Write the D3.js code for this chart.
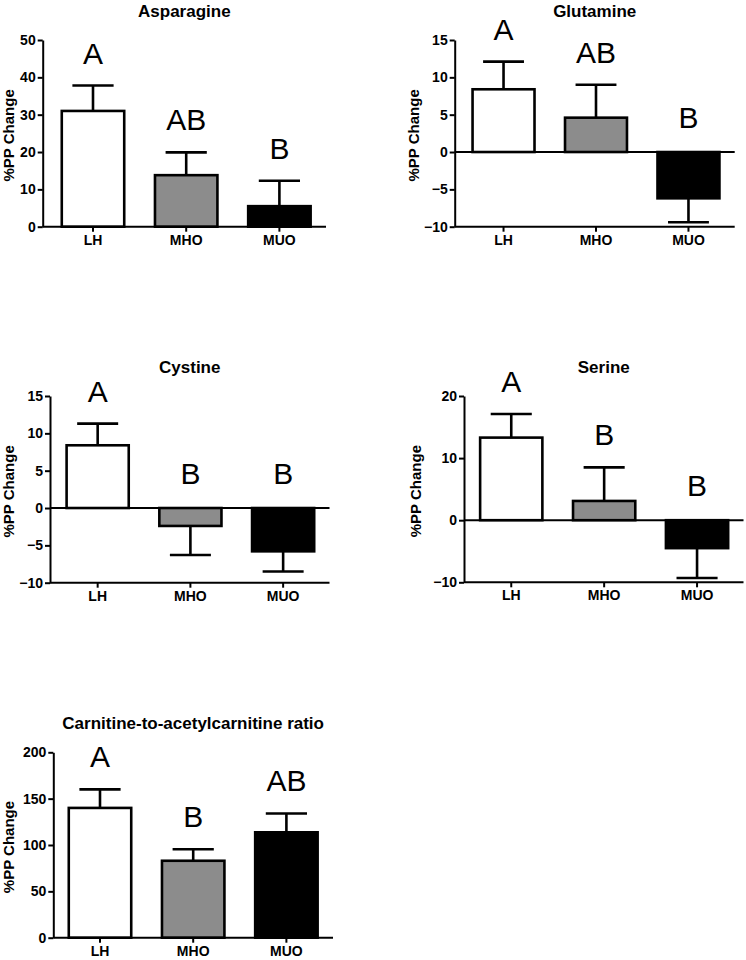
<!DOCTYPE html>
<html>
<head>
<meta charset="utf-8">
<script src="https://cdn.jsdelivr.net/npm/d3@7"></script>
<style>
  html, body { margin: 0; padding: 0; background: #fff; }
  svg { display: block; font-family: Arial, "Liberation Sans", Helvetica, sans-serif; }
</style>
</head>
<body>
<svg id="chart" width="746" height="960"></svg>
<script>
// ---------------- data ----------------
const groups = ["LH", "MHO", "MUO"];
const barColors = ["#ffffff", "#8c8c8c", "#000000"];
const yLabel = "%PP Change";

const titles = ["Asparagine", "Glutamine", "Cystine", "Serine", "Carnitine-to-acetylcarnitine ratio"];

const asparagineMean = [31.0, 13.8, 5.5];
const asparagineErr  = [6.8, 6.1, 6.8];
const glutamineMean  = [8.4, 4.6, -6.2];
const glutamineErr   = [3.7, 4.4, 3.2];
const cystineMean    = [8.4, -2.4, -5.8];
const cystineErr     = [2.9, 3.9, 2.7];
const serineMean     = [13.3, 3.1, -4.5];
const serineErr      = [3.8, 5.4, 4.8];
const carnitineMean  = [140.0, 83.0, 113.7];
const carnitineErr   = [20.0, 12.4, 20.3];

const asparagineLetters = ["A", "AB", "B"];
const glutamineLetters  = ["A", "AB", "B"];
const cystineLetters    = ["A", "B", "B"];
const serineLetters     = ["A", "B", "B"];
const carnitineLetters  = ["A", "B", "AB"];

const asparagineTicks = [0, 10, 20, 30, 40, 50];
const glutamineTicks  = [-10, -5, 0, 5, 10, 15];
const cystineTicks    = [-10, -5, 0, 5, 10, 15];
const serineTicks     = [-10, 0, 10, 20];
const carnitineTicks  = [0, 50, 100, 150, 200];

const panelsData = [
  { mean: asparagineMean, err: asparagineErr, letters: asparagineLetters, ticks: asparagineTicks },
  { mean: glutamineMean,  err: glutamineErr,  letters: glutamineLetters,  ticks: glutamineTicks },
  { mean: cystineMean,    err: cystineErr,    letters: cystineLetters,    ticks: cystineTicks },
  { mean: serineMean,     err: serineErr,     letters: serineLetters,     ticks: serineTicks },
  { mean: carnitineMean,  err: carnitineErr,  letters: carnitineLetters,  ticks: carnitineTicks }
];

// ---------------- layout ----------------
const layout = [
  { axisX: 42.7,  bandStart: 46.4,  bandEnd: 326.0, top: 40,    bottom: 226.7, labelX: 9 },
  { axisX: 454.7, bandStart: 457.3, bandEnd: 734.7, top: 40,    bottom: 226.7, labelX: 414 },
  { axisX: 50,    bandStart: 51.3,  bandEnd: 329.5, top: 396,   bottom: 582.7, labelX: 9 },
  { axisX: 464,   bandStart: 464.8, bandEnd: 743.5, top: 396,   bottom: 582.3, labelX: 415.5 },
  { axisX: 53.3,  bandStart: 53.4,  bandEnd: 333,   top: 752.3, bottom: 937.7, labelX: 9 }
];

const svg = d3.select("#chart");

panelsData.forEach((pd, i) => {
  const L = layout[i];
  const g = svg.append("g");
  const ticks = pd.ticks;
  const y = d3.scaleLinear()
    .domain([d3.min(ticks), d3.max(ticks)])
    .range([L.bottom, L.top]);
  const x = d3.scaleBand()
    .domain(groups)
    .range([L.bandStart, L.bandEnd])
    .paddingInner(0.33)
    .paddingOuter(0.165);

  const rows = groups.map((k, j) => ({ k, v: pd.mean[j], e: pd.err[j], c: barColors[j], l: pd.letters[j] }));

  // bars
  g.selectAll("rect.bar").data(rows).enter().append("rect")
    .attr("class", "bar")
    .attr("x", d => x(d.k))
    .attr("width", x.bandwidth())
    .attr("y", d => y(Math.max(0, d.v)))
    .attr("height", d => Math.abs(y(d.v) - y(0)))
    .attr("fill", d => d.c)
    .attr("stroke", "#000")
    .attr("stroke-width", 2.6);

  // error bars (one-sided, away from zero)
  const capW = x.bandwidth() * 0.66;
  rows.forEach(d => {
    const cx = x(d.k) + x.bandwidth() / 2;
    const tip = d.v >= 0 ? d.v + d.e : d.v - d.e;
    g.append("line")
      .attr("x1", cx).attr("x2", cx)
      .attr("y1", y(d.v)).attr("y2", y(tip))
      .attr("stroke", "#000").attr("stroke-width", 2.6);
    g.append("line")
      .attr("x1", cx - capW / 2).attr("x2", cx + capW / 2)
      .attr("y1", y(tip)).attr("y2", y(tip))
      .attr("stroke", "#000").attr("stroke-width", 2.6);
    // significance letters
    const base = d.v >= 0 ? y(d.v + d.e) - 22 : y(0) - 24;
    g.append("text")
      .attr("x", cx).attr("y", base)
      .attr("text-anchor", "middle")
      .attr("font-size", 30)
      .attr("fill", "#000")
      .text(d.l);
  });

  // y axis
  const yAxis = d3.axisLeft(y).tickValues(ticks).tickSize(5).tickSizeOuter(0).tickPadding(2);
  const ya = g.append("g").attr("transform", `translate(${L.axisX},0)`).call(yAxis);
  ya.selectAll("text").attr("font-size", 14).attr("font-weight", "bold").attr("fill", "#000")
    .attr("font-family", "Arial, 'Liberation Sans', sans-serif");
  ya.selectAll("line").attr("stroke", "#000").attr("stroke-width", 2);
  ya.select(".domain").attr("stroke", "#000").attr("stroke-width", 2);

  // x axis (ticks + labels)
  const xAxis = d3.axisBottom(x).tickSize(5).tickSizeOuter(0).tickPadding(3);
  const xa = g.append("g").attr("transform", `translate(0,${L.bottom})`).call(xAxis);
  xa.select(".domain").remove();
  xa.selectAll("text").attr("font-size", 14).attr("font-weight", "bold").attr("fill", "#000")
    .attr("font-family", "Arial, 'Liberation Sans', sans-serif");
  xa.selectAll("line").attr("stroke", "#000").attr("stroke-width", 2);
  g.append("line")
    .attr("x1", L.axisX).attr("x2", L.bandEnd)
    .attr("y1", L.bottom).attr("y2", L.bottom)
    .attr("stroke", "#000").attr("stroke-width", 2);

  // zero line
  if (y.domain()[0] < 0) {
    g.append("line")
      .attr("x1", L.axisX).attr("x2", L.bandEnd)
      .attr("y1", y(0)).attr("y2", y(0))
      .attr("stroke", "#000").attr("stroke-width", 2);
  }

  // title
  g.append("text")
    .attr("x", (L.axisX + L.bandEnd) / 2)
    .attr("y", L.top - 23)
    .attr("text-anchor", "middle")
    .attr("font-size", 17).attr("font-weight", "bold")
    .text(titles[i]);

  // y label
  const cy = (L.top + L.bottom) / 2 + 2;
  g.append("text")
    .attr("transform", `translate(${L.labelX + 5},${cy}) rotate(-90)`)
    .attr("text-anchor", "middle")
    .attr("font-size", 15).attr("font-weight", "bold")
    .text(yLabel);
});
</script>
</body>
</html>
